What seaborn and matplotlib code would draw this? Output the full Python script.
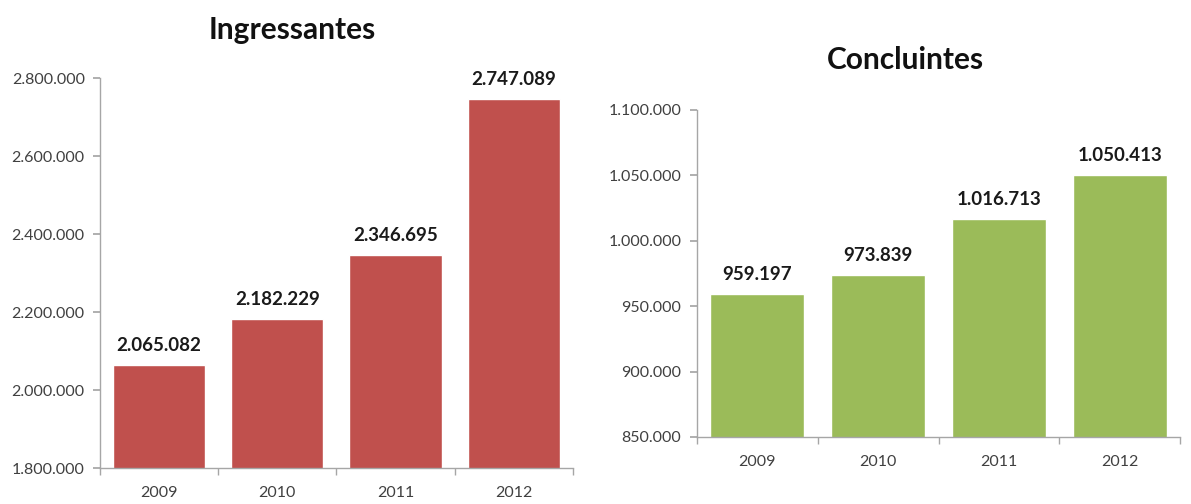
import matplotlib
matplotlib.use("Agg")
import matplotlib.pyplot as plt
import seaborn as sns
import pandas as pd
from matplotlib.ticker import FuncFormatter, FixedLocator

years = ["2009", "2010", "2011", "2012"]
ingressantes = [2065082, 2182229, 2346695, 2747089]
concluintes = [959197, 973839, 1016713, 1050413]

sns.set_theme(style="white")
plt.rcParams['font.family'] = ['Lato', 'DejaVu Sans']

def fmt(v, pos=None):
    return f"{int(v):,}".replace(",", ".")

fig = plt.figure(figsize=(11.91, 5.04), dpi=100)
ax1 = fig.add_axes([0.084, 0.0714, 0.397, 0.7736])
ax2 = fig.add_axes([0.585, 0.133, 0.406, 0.649])

specs = [
    (ax1, ingressantes, "#C0504D", (1800000, 2800000), 200000, "Ingressantes", 0.245, 0.94),
    (ax2, concluintes, "#9BBB59", (850000, 1100000), 50000, "Concluintes", 0.760, 0.88),
]

for ax, vals, col, lim, step, title, tx, ty in specs:
    df = pd.DataFrame({"ano": years, "valor": vals})
    sns.barplot(data=df, x="ano", y="valor", color=col, width=0.78,
                saturation=1, ax=ax)
    ax.set_ylim(*lim)
    ax.set_xlim(-0.5, 3.5)
    ax.yaxis.set_major_locator(FixedLocator(list(range(lim[0], lim[1] + 1, step))))
    ax.yaxis.set_major_formatter(FuncFormatter(fmt))
    ax.set_xlabel("")
    ax.set_ylabel("")
    for s in ["top", "right"]:
        ax.spines[s].set_visible(False)
    for s in ["left", "bottom"]:
        ax.spines[s].set_color("#A6A6A6")
        ax.spines[s].set_linewidth(1.0)
    ax.tick_params(axis="y", which="major", length=5, color="#A6A6A6",
                   labelsize=11.5, labelcolor="#404040", pad=6, left=True)
    ax.tick_params(axis="x", which="major", length=0, labelsize=11.5,
                   labelcolor="#404040", pad=13)
    ax.set_xticks([-0.5, 0.5, 1.5, 2.5, 3.5], minor=True)
    ax.tick_params(axis="x", which="minor", length=5, color="#A6A6A6",
                   bottom=True)
    labels = [fmt(v) for v in vals]
    ax.bar_label(ax.containers[0], labels=labels, padding=8,
                 fontsize=13.5, fontweight="bold", color="#1a1a1a")
    ax.grid(False)
    fig.text(tx, ty, title, ha="center", va="center", fontsize=21.5,
             fontweight="bold", color="#111111")

fig.savefig("out.png", dpi=100)
